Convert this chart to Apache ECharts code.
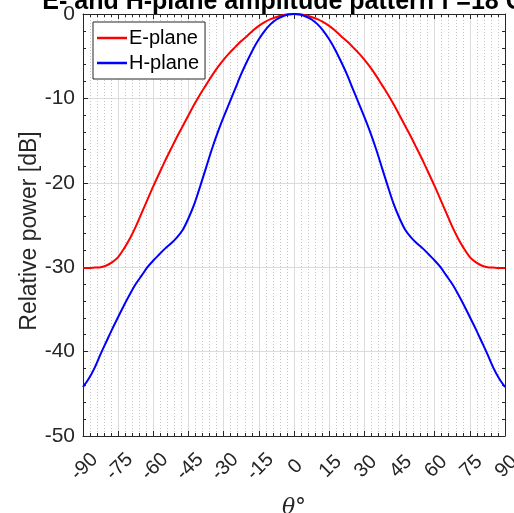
<!DOCTYPE html>
<html>
<head>
<meta charset="utf-8">
<script src="https://cdn.jsdelivr.net/npm/echarts@6/dist/echarts.min.js"></script>
<style>html,body{margin:0;padding:0;background:#fff}#c{width:514px;height:513px}</style>
</head>
<body>
<div id="c"></div>
<script>
const thetaDeg = [-90,-87.5,-85,-82.5,-80,-77.5,-75,-72.5,-70,-67.5,-65,-62.5,-60,-57.5,-55,-52.5,-50,-47.5,-45,-42.5,-40,-37.5,-35,-32.5,-30,-27.5,-25,-22.5,-20,-17.5,-15,-12.5,-10,-7.5,-5,-2.5,0,
  2.5,5,7.5,10,12.5,15,17.5,20,22.5,25,27.5,30,32.5,35,37.5,40,42.5,45,47.5,50,52.5,55,57.5,60,62.5,65,67.5,70,72.5,75,77.5,80,82.5,85,87.5,90];
const ePlane = [-30.1,-30.1,-30.05,-30.0,-29.8,-29.4,-28.8,-27.8,-26.6,-25.2,-23.6,-22.0,-20.4,-18.9,-17.4,-16.0,-14.6,-13.3,-12.0,-10.7,-9.5,-8.4,-7.3,-6.3,-5.4,-4.6,-3.9,-3.2,-2.6,-1.95,-1.4,-0.95,-0.6,-0.35,-0.15,-0.04,0,
  -0.04,-0.15,-0.35,-0.6,-0.95,-1.4,-1.95,-2.6,-3.2,-3.9,-4.6,-5.4,-6.3,-7.3,-8.4,-9.5,-10.7,-12.0,-13.3,-14.6,-16.0,-17.4,-18.9,-20.4,-22.0,-23.6,-25.2,-26.6,-27.8,-28.8,-29.4,-29.8,-30.0,-30.05,-30.1,-30.1];
const hPlane = [-44.2,-43.2,-41.9,-40.3,-38.8,-37.3,-35.9,-34.5,-33.2,-32.0,-31.0,-30.0,-29.2,-28.5,-27.8,-27.2,-26.5,-25.6,-24.2,-22.5,-20.4,-18.2,-16.0,-14.0,-12.2,-10.5,-8.8,-7.1,-5.6,-4.2,-3.0,-2.0,-1.2,-0.65,-0.3,-0.07,0,
  -0.07,-0.3,-0.65,-1.2,-2.0,-3.0,-4.2,-5.6,-7.1,-8.8,-10.5,-12.2,-14.0,-16.0,-18.2,-20.4,-22.5,-24.2,-25.6,-26.5,-27.2,-27.8,-28.5,-29.2,-30.0,-31.0,-32.0,-33.2,-34.5,-35.9,-37.3,-38.8,-40.3,-41.9,-43.2,-44.2];
const xTicks = [-90,-75,-60,-45,-30,-15,0,15,30,45,60,75,90];
const yTicks = [-50,-40,-30,-20,-10,0];
const titleText = 'E- and H-plane amplitude pattern f =18 GHz';
const seriesNames = ['E-plane','H-plane'];
const xName = 'θ°';
const yName = 'Relative power [dB]';

const font = '"Liberation Sans", Arial, Helvetica, sans-serif';
const axisCol = '#262626';
const chart = echarts.init(document.getElementById('c'), null, {renderer:'canvas'});

function mkX(pos, labels){
  return {
    type:'value', position:pos, min:xTicks[0], max:xTicks[xTicks.length-1], interval:15,
    name: labels ? xName : '', nameLocation:'middle', nameGap:61,
    nameTextStyle:{fontFamily:'"DejaVu Serif","Liberation Serif",serif', fontStyle:'italic', fontSize:22, color:axisCol},
    axisLine:{show:true, onZero:false, lineStyle:{color:axisCol, width:1}},
    axisTick:{show:true, inside:true, length:5, lineStyle:{color:axisCol}},
    minorTick:{show:true, splitNumber:5, length:3, lineStyle:{color:axisCol}},
    axisLabel:{show:labels, rotate:45, align:'center', verticalAlign:'middle', fontSize:20, fontFamily:font, color:axisCol, margin:32, showMinLabel:true, showMaxLabel:true, padding:[0,0,0,4]},
    splitLine:{show:labels, lineStyle:{color:'#dcdcdc', width:1}},
    minorSplitLine:{show:labels, lineStyle:{color:'#c4c4c4', type:[1,2], width:1}}
  };
}
function mkY(pos, labels){
  return {
    type:'value', position:pos, min:yTicks[0], max:yTicks[yTicks.length-1], interval:10,
    axisLine:{show:true, onZero:false, lineStyle:{color:axisCol, width:1}},
    axisTick:{show:true, inside:true, length:5, lineStyle:{color:axisCol}},
    minorTick:{show:true, splitNumber:5, length:3, lineStyle:{color:axisCol}},
    axisLabel:{show:labels, fontSize:21, fontFamily:font, color:axisCol, margin:8, showMinLabel:true, showMaxLabel:true},
    splitLine:{show:labels, lineStyle:{color:'#dcdcdc', width:1}},
    minorSplitLine:{show:false}
  };
}

chart.setOption({
  animation:false,
  backgroundColor:'#ffffff',
  title:{text:titleText, left:294, textAlign:'center', top:-15,
    textStyle:{fontFamily:font, fontWeight:'bold', fontSize:25, color:'#000'}},
  grid:{left:83, right:9, top:14, bottom:77, containLabel:false, outerBoundsMode:'none'},
  legend:{orient:'vertical', left:93, top:22, padding:[6,6,6,4], itemGap:5,
    backgroundColor:'#ffffff', borderColor:axisCol, borderWidth:1,
    icon:'rect', itemWidth:30, itemHeight:2.5,
    textStyle:{fontFamily:font, fontSize:20, color:'#000', padding:[0,0,0,-3]},
    data:seriesNames},
  graphic:[{type:'text', x:30, y:231, rotation:Math.PI/2,
    style:{text:yName, fontFamily:font, fontSize:23, fill:axisCol, align:'center', verticalAlign:'middle'}}],
  xAxis:[mkX('bottom', true), mkX('top', false)],
  yAxis:[mkY('left', true), mkY('right', false)],
  series:[
    {name:seriesNames[0], type:'line', data:thetaDeg.map((t,i)=>[t,ePlane[i]]), showSymbol:false, symbol:'none', smooth:0.3,
     lineStyle:{color:'#ff0000', width:2}, itemStyle:{color:'#ff0000'}, z:3},
    {name:seriesNames[1], type:'line', data:thetaDeg.map((t,i)=>[t,hPlane[i]]), showSymbol:false, symbol:'none', smooth:0.3,
     lineStyle:{color:'#0000ff', width:2}, itemStyle:{color:'#0000ff'}, z:3}
  ]
});
</script>
</body>
</html>
